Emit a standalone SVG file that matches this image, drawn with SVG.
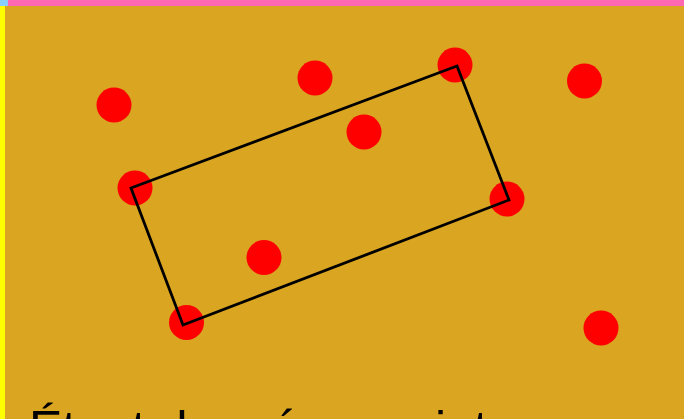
<svg xmlns="http://www.w3.org/2000/svg" width="684" height="419" viewBox="0 0 684 419">
  <style>
    .pt { fill: #FF0000; }
    .rect { fill: none; stroke: #000000; stroke-width: 2.8; stroke-linejoin: miter; }
    .caption { font-family: "Liberation Sans", Arial, sans-serif; font-size: 50px; fill: #000000; }
  </style>
  <rect x="0" y="0" width="684" height="419" fill="#DAA520"/>
  <rect x="8" y="0" width="676" height="6" fill="#FF69B4"/>
  <rect x="0" y="0" width="8" height="6" fill="#87CEFA"/>
  <rect x="0" y="6" width="5" height="413" fill="#FFFF00"/>
  <g id="points">
    <g id="p1"><circle class="pt" cx="114" cy="105" r="17.5"/></g>
    <g id="p2"><circle class="pt" cx="315" cy="78" r="17.5"/></g>
    <g id="p3"><circle class="pt" cx="455" cy="65" r="17.5"/></g>
    <g id="p4"><circle class="pt" cx="584.5" cy="81" r="17.5"/></g>
    <g id="p5"><circle class="pt" cx="364" cy="132" r="17.5"/></g>
    <g id="p6"><circle class="pt" cx="135" cy="188" r="17.5"/></g>
    <g id="p7"><circle class="pt" cx="507" cy="199" r="17.5"/></g>
    <g id="p8"><circle class="pt" cx="264" cy="257.5" r="17.5"/></g>
    <g id="p9"><circle class="pt" cx="186.5" cy="322.5" r="17.5"/></g>
    <g id="p10"><circle class="pt" cx="601" cy="328" r="17.5"/></g>
  </g>
  <g id="connectors">
    <polygon class="rect" points="131,188 457,66 509,200 183,325"/>
  </g>
  <g id="caption">
    <text class="caption" x="29" y="446">Étant donnés n points</text>
  </g>
</svg>
